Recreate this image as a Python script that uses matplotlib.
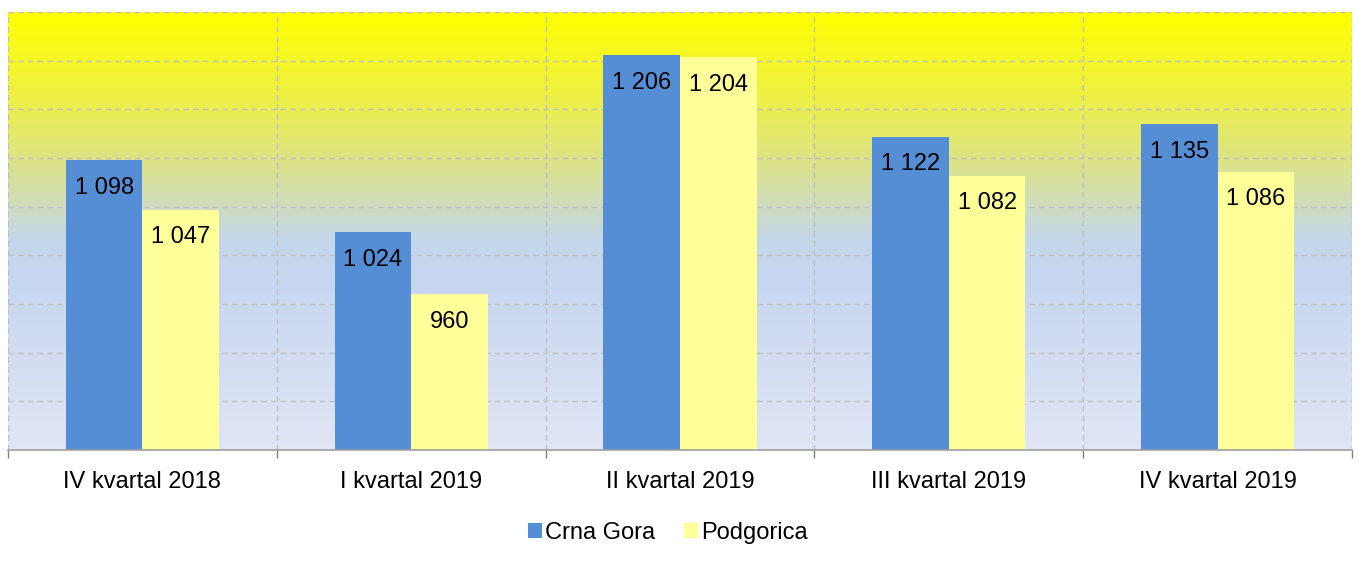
import matplotlib.pyplot as plt
import numpy as np
from matplotlib.colors import LinearSegmentedColormap

plt.rcParams['font.family'] = ['Liberation Sans', 'DejaVu Sans']

categories = ['IV kvartal 2018', 'I kvartal 2019', 'II kvartal 2019', 'III kvartal 2019', 'IV kvartal 2019']
crna_gora = [1098, 1024, 1206, 1122, 1135]
podgorica = [1047, 960, 1204, 1082, 1086]
labels_cg = ['1 098', '1 024', '1 206', '1 122', '1 135']
labels_pg = ['1 047', '960', '1 204', '1 082', '1 086']

fig = plt.figure(figsize=(13.58, 5.70), dpi=100)
ax = fig.add_axes([8/1358, 1 - 450/570, 1344/1358, 438/570])

ymin, ymax = 800, 1250
n = len(categories)

# gradient background, yellow on top
bg = LinearSegmentedColormap.from_list('bg', [
    (0.0, (1.0, 1.0, 0.0)),
    (0.2, (0.93, 0.94, 0.28)),
    (0.35, (0.86, 0.89, 0.55)),
    (0.52, (0.77, 0.84, 0.92)),
    (0.62, (0.78, 0.84, 0.94)),
    (1.0, (0.88, 0.90, 0.96)),
])
grad = np.linspace(0, 1, 256).reshape(-1, 1)
ax.imshow(grad, cmap=bg, aspect='auto', extent=[-0.5, n - 0.5, ymin, ymax],
          origin='upper', zorder=0)

x = np.arange(n)
w = 0.285
ax.bar(x - w/2, crna_gora, w, color='#558ED5', label='Crna Gora', zorder=3)
ax.bar(x + w/2, podgorica, w, color='#FFFF99', label='Podgorica', zorder=3)

for xi, v, t in zip(x, crna_gora, labels_cg):
    ax.annotate(t, (xi - w/2, v), xytext=(0, -20), textcoords='offset points',
                ha='center', va='center', fontsize=17, zorder=4)
for xi, v, t in zip(x, podgorica, labels_pg):
    ax.annotate(t, (xi + w/2, v), xytext=(0, -20), textcoords='offset points',
                ha='center', va='center', fontsize=17, zorder=4)

ax.set_xlim(-0.5, n - 0.5)
ax.set_ylim(ymin, ymax)

# grid lines
for y in range(850, 1251, 50):
    ax.axhline(y, color='#C0C0C0', ls=(0, (4, 3)), lw=1, zorder=1)
for b in np.arange(-0.5, n, 1.0):
    ax.axvline(b, color='#C0C0C0', ls=(0, (4, 3)), lw=1, zorder=1)

for s in ['top', 'right', 'left']:
    ax.spines[s].set_visible(False)
ax.spines['bottom'].set_color('#A0A0A0')
ax.spines['bottom'].set_linewidth(1.2)
ax.spines['bottom'].set_zorder(5)

ax.set_yticks([])
ax.set_xticks(np.arange(-0.5, n, 1.0))
ax.set_xticklabels([])
ax.set_xticks(x, minor=True)
ax.set_xticklabels(categories, minor=True, fontsize=17)
ax.tick_params(axis='x', which='major', length=6, color='#808080', width=1)
ax.tick_params(axis='x', which='minor', length=0, pad=15)

ax.legend(loc='center', bbox_to_anchor=(0.491, -0.19), ncol=2, frameon=False,
          fontsize=17, handlelength=0.6, handleheight=0.6, handletextpad=0.15,
          columnspacing=1.2)

fig.savefig('out.png', dpi=100)
